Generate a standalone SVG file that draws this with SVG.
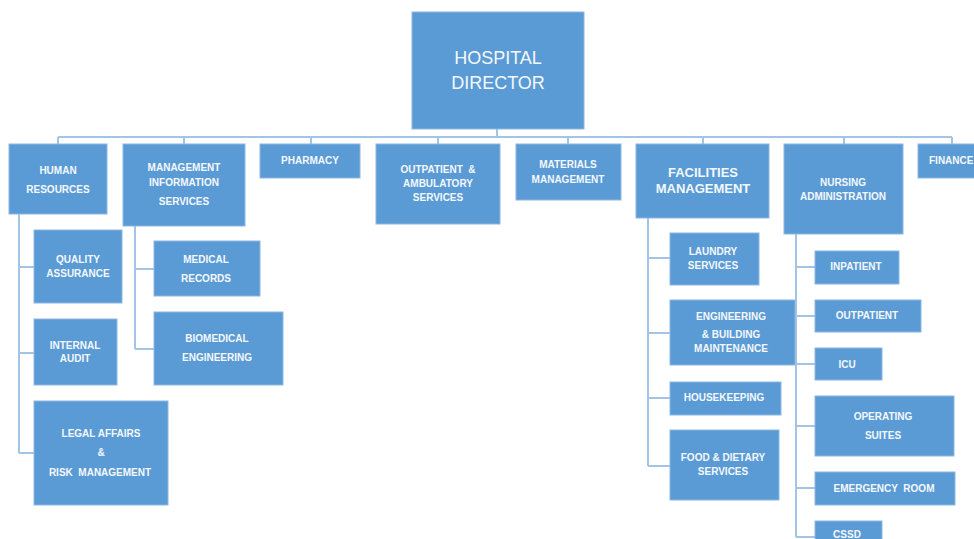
<svg xmlns="http://www.w3.org/2000/svg" width="974" height="539" viewBox="0 0 974 539">
<style>
.b{fill:#5B9BD5;stroke:#8DB8E2;stroke-width:1}
.t{font-family:"Liberation Sans",Arial,sans-serif;font-size:10px;font-weight:bold;fill:#F4F8FC;text-anchor:middle;white-space:pre}
.big{font-size:18px;font-weight:normal}
.mid{font-size:13px}
.c{fill:none;stroke:#A4C4E6;stroke-width:2}
</style>
<rect width="974" height="539" fill="#FFFFFF"/>
<g id="connectors" class="c">
<path d="M497,129V137M58,137H952M58,137V144M184,137V144M311,137V144M438,137V144M568,137V144M703,137V144M844,137V144M952,137V144"/>
<path d="M19,214V453M19,267H34M19,353H34M19,453H34"/>
<path d="M135,226V349M135,269H154M135,349H154"/>
<path d="M648,218V466M648,258H670M648,333H670M648,398H670M648,466H670"/>
<path d="M796,234V537M796,267H815M796,316H815M796,364H815M796,426H815M796,488H815M796,537H815"/>
</g>
<g id="director"><rect class="b" x="412" y="12" width="172" height="117"/><text class="t big" x="498" y="64">HOSPITAL</text><text class="t big" x="498" y="89">DIRECTOR</text></g>
<g id="hr"><rect class="b" x="9" y="144" width="98" height="70"/><text class="t" x="58" y="174">HUMAN</text><text class="t" x="58" y="193">RESOURCES</text></g>
<g id="mis"><rect class="b" x="123" y="144" width="122" height="82"/><text class="t" x="184" y="171">MANAGEMENT</text><text class="t" x="184" y="186">INFORMATION</text><text class="t" x="184" y="205">SERVICES</text></g>
<g id="pharmacy"><rect class="b" x="260" y="144" width="100" height="34"/><text class="t" x="310" y="164">PHARMACY</text></g>
<g id="outpatient-amb"><rect class="b" x="376" y="144" width="124" height="80"/><text class="t" x="438" y="173" xml:space="preserve">OUTPATIENT  &amp;</text><text class="t" x="438" y="187">AMBULATORY</text><text class="t" x="438" y="201">SERVICES</text></g>
<g id="materials"><rect class="b" x="516" y="144" width="105" height="56"/><text class="t" x="568" y="168">MATERIALS</text><text class="t" x="568" y="183">MANAGEMENT</text></g>
<g id="facilities"><rect class="b" x="636" y="144" width="133" height="74"/><text class="t mid" x="703" y="177">FACILITIES</text><text class="t mid" x="703" y="193">MANAGEMENT</text></g>
<g id="nursing"><rect class="b" x="784" y="144" width="119" height="90"/><text class="t" x="843" y="186">NURSING</text><text class="t" x="843" y="200">ADMINISTRATION</text></g>
<g id="finance"><rect class="b" x="918" y="144" width="62" height="34"/><text class="t" x="929" y="164" style="text-anchor:start">FINANCE</text></g>
<g id="quality"><rect class="b" x="34" y="230" width="88" height="73"/><text class="t" x="78" y="263">QUALITY</text><text class="t" x="78" y="277">ASSURANCE</text></g>
<g id="audit"><rect class="b" x="34" y="319" width="83" height="66"/><text class="t" x="75" y="349">INTERNAL</text><text class="t" x="75" y="362">AUDIT</text></g>
<g id="legal"><rect class="b" x="34" y="401" width="134" height="104"/><text class="t" x="101" y="437">LEGAL AFFAIRS</text><text class="t" x="101" y="456">&amp;</text><text class="t" x="100" y="476" xml:space="preserve">RISK  MANAGEMENT</text></g>
<g id="medical-records"><rect class="b" x="154" y="241" width="106" height="55"/><text class="t" x="206" y="263">MEDICAL</text><text class="t" x="206" y="282">RECORDS</text></g>
<g id="biomedical"><rect class="b" x="154" y="312" width="129" height="73"/><text class="t" x="217" y="342">BIOMEDICAL</text><text class="t" x="217" y="361">ENGINEERING</text></g>
<g id="laundry"><rect class="b" x="670" y="233" width="89" height="52"/><text class="t" x="713" y="255">LAUNDRY</text><text class="t" x="713" y="269">SERVICES</text></g>
<g id="engineering"><rect class="b" x="670" y="300" width="125" height="65"/><text class="t" x="731" y="320">ENGINEERING</text><text class="t" x="731" y="338">&amp; BUILDING</text><text class="t" x="731" y="352">MAINTENANCE</text></g>
<g id="housekeeping"><rect class="b" x="670" y="382" width="111" height="33"/><text class="t" x="724" y="401">HOUSEKEEPING</text></g>
<g id="food"><rect class="b" x="670" y="430" width="109" height="70"/><text class="t" x="723" y="461">FOOD &amp; DIETARY</text><text class="t" x="723" y="475">SERVICES</text></g>
<g id="inpatient"><rect class="b" x="815" y="251" width="84" height="33"/><text class="t" x="856" y="270">INPATIENT</text></g>
<g id="outpatient"><rect class="b" x="815" y="300" width="106" height="32"/><text class="t" x="867" y="319">OUTPATIENT</text></g>
<g id="icu"><rect class="b" x="815" y="348" width="67" height="32"/><text class="t" x="847" y="368">ICU</text></g>
<g id="operating"><rect class="b" x="815" y="396" width="139" height="60"/><text class="t" x="883" y="420">OPERATING</text><text class="t" x="883" y="439">SUITES</text></g>
<g id="emergency"><rect class="b" x="815" y="472" width="140" height="33"/><text class="t" x="884" y="492" xml:space="preserve">EMERGENCY  ROOM</text></g>
<g id="cssd"><rect class="b" x="815" y="521" width="67" height="30"/><text class="t" x="847" y="538">CSSD</text></g>
</svg>
